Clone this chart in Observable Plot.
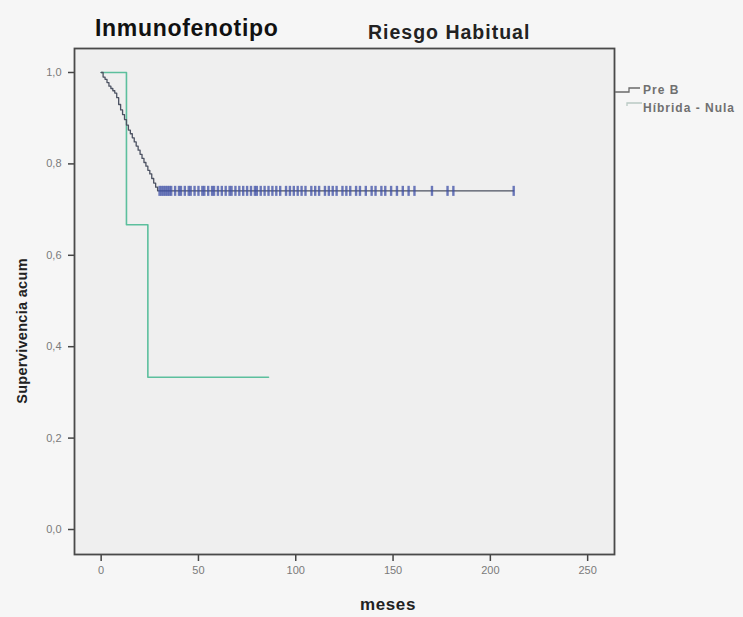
<!DOCTYPE html>
<html>
<head>
<meta charset="utf-8">
<script src="https://cdn.jsdelivr.net/npm/d3@7"></script>
<script src="https://cdn.jsdelivr.net/npm/@observablehq/plot@0.6"></script>
<style>
  html, body { margin: 0; padding: 0; background: #f6f6f6; }
  #wrap { position: relative; width: 743px; height: 617px; overflow: hidden; }
  #chart { position: absolute; left: 0; top: 0; }
  #overlay { position: absolute; left: 0; top: 0; pointer-events: none; }
</style>
</head>
<body>
<div id="wrap">
  <div id="chart"></div>
  <svg id="overlay" width="743" height="617">
    <text x="95" y="36" font-family="Liberation Sans, Arial, sans-serif" font-weight="bold" font-size="23" letter-spacing="0.7" fill="#111">Inmunofenotipo</text>
    <text x="368" y="39" font-family="Liberation Sans, Arial, sans-serif" font-weight="bold" font-size="19.5" letter-spacing="1" fill="#222">Riesgo Habitual</text>
    <text transform="translate(27,331) rotate(-90)" text-anchor="middle" font-family="Liberation Sans, Arial, sans-serif" font-weight="bold" font-size="14.5" letter-spacing="0.3" fill="#222">Supervivencia acum</text>
    <text x="388" y="610" text-anchor="middle" font-family="Liberation Sans, Arial, sans-serif" font-weight="bold" font-size="17" letter-spacing="0.6" fill="#222">meses</text>
    <g id="legend"></g>
  </svg>
</div>
<script>
// ---- data ----
const xTicks = [0, 50, 100, 150, 200, 250];
const yTicks = [0, 0.2, 0.4, 0.6, 0.8, 1.0];

const seriesNames = ["Pre B", "Híbrida - Nula"];

// Pre B: Kaplan-Meier steps
const preBTime = [0, 1, 2, 3, 4, 5, 6, 7, 8, 9, 10, 11, 12, 13, 14, 15, 16, 17, 18, 19, 20, 21, 22, 23, 24, 25, 26, 27, 28, 29];
const preBSurv = [1.0, 0.99, 0.985, 0.978, 0.97, 0.965, 0.96, 0.955, 0.945, 0.93, 0.918, 0.908, 0.897, 0.885, 0.874, 0.866, 0.857, 0.848, 0.839, 0.830, 0.821, 0.812, 0.803, 0.795, 0.786, 0.778, 0.768, 0.758, 0.749, 0.741];
const preBEnd = 212;
// Pre B censored observations (months)
const preBCensor = [30, 31, 32, 33, 34, 35, 36, 38, 40, 41, 43, 45, 46, 48, 50, 52, 53, 55, 57, 58,
  60, 62, 64, 66, 67, 69, 71, 73, 75, 77, 79, 80, 82, 84, 86, 88, 90, 92, 95, 97, 99, 101, 103, 105,
  108, 110, 112, 115, 117, 119, 121, 124, 126, 128, 131, 133, 136, 139, 141, 144, 146, 149, 152, 155,
  158, 161, 170, 178, 181, 212];

// Híbrida - Nula: Kaplan-Meier steps
const hibTime = [0, 13, 24];
const hibSurv = [1.0, 0.667, 0.333];
const hibEnd = 86;

// ---- build tables ----
const preBLine = preBTime.map((t, i) => ({t, s: preBSurv[i]})).concat([{t: preBEnd, s: preBSurv[preBSurv.length - 1]}]);
const hibLine = hibTime.map((t, i) => ({t, s: hibSurv[i]})).concat([{t: hibEnd, s: hibSurv[hibSurv.length - 1]}]);
const lastPreB = preBSurv[preBSurv.length - 1];
const censorData = preBCensor.map(t => ({t, s: lastPreB}));

const fmt = d => d.toFixed(1).replace(".", ",");

const preBColor = "#4c5262";
const hibColor = "#5cbf9d";
const censorColor = "#3e4fa6";

const chart = Plot.plot({
  width: 743,
  height: 617,
  marginLeft: 74,
  marginRight: 129,
  marginTop: 48,
  marginBottom: 63,
  style: {background: "transparent", fontFamily: "Liberation Sans, Arial, sans-serif"},
  x: {domain: [-13.7, 263.8]},
  y: {domain: [-0.0547, 1.0525]},
  marks: [
    Plot.frame({fill: "#efefef", stroke: "none"}),
    // tick marks
    Plot.axisX({ticks: xTicks, tickSize: 7, tickFormat: () => "", stroke: "#444", strokeWidth: 1.5, label: null}),
    Plot.axisY({ticks: yTicks, tickSize: 6, tickFormat: () => "", stroke: "#444", strokeWidth: 1.5, label: null}),
    // tick labels
    Plot.axisX({ticks: xTicks, tickSize: 0, tickPadding: 12, fontSize: 11, fill: "#7a7a7a", label: null}),
    Plot.axisY({ticks: yTicks, tickSize: 0, tickPadding: 13, fontSize: 11, fill: "#7a7a7a", tickFormat: fmt, label: null}),
    Plot.line(hibLine, {x: "t", y: "s", curve: "step-after", stroke: hibColor, strokeWidth: 1.6}),
    Plot.line(preBLine, {x: "t", y: "s", curve: "step-after", stroke: preBColor, strokeWidth: 1.3}),
    Plot.link(censorData, {x1: "t", x2: "t", y1: d => d.s - 0.011, y2: d => d.s + 0.011, stroke: censorColor, strokeWidth: 2.4, strokeOpacity: 0.75}),
    Plot.frame({stroke: "#4a4a4a", strokeWidth: 1.8})
  ]
});
document.getElementById("chart").appendChild(chart);

// legend
const lg = d3.select("#legend");
const legendItems = [
  {name: seriesNames[0], y: 90, color: "#6a6a6a", glyph: "M615,92 H629 V88 H640"},
  {name: seriesNames[1], y: 108, color: "#b9c9c3", glyph: "M627,106 V103 H642"}
];
legendItems.forEach(it => {
  lg.append("path").attr("d", it.glyph).attr("fill", "none").attr("stroke", it.color).attr("stroke-width", 1.3);
  lg.append("text").attr("x", 643).attr("y", it.y + 4)
    .attr("font-family", "Liberation Sans, Arial, sans-serif").attr("font-weight", "bold")
    .attr("font-size", 12).attr("letter-spacing", 1).attr("fill", "#707070").text(it.name);
});
</script>
</body>
</html>
